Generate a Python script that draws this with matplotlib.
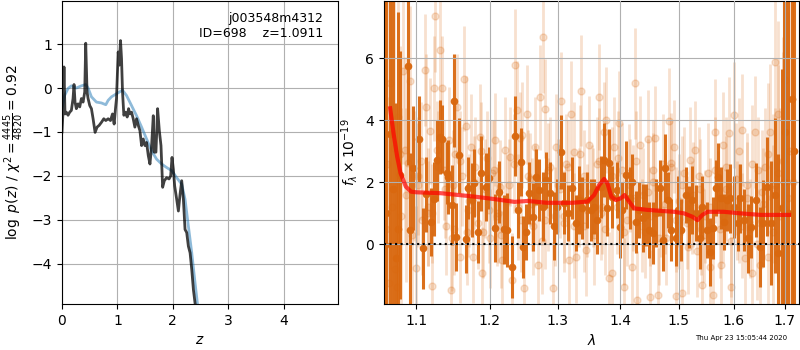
import numpy as np
import matplotlib
matplotlib.use('Agg')
import matplotlib.pyplot as plt
from matplotlib.ticker import FixedLocator, FixedFormatter, NullLocator

# ── Left panel: log p(z) ─────────────────────────────────────────────────────
Z_PZ = [0.000, 0.018, 0.036, 0.054, 0.078, 0.109, 0.139, 0.169, 0.199, 0.217,
        0.235, 0.259, 0.290, 0.320, 0.350, 0.380, 0.410, 0.428, 0.452, 0.471,
        0.501, 0.531, 0.561, 0.597, 0.633, 0.670, 0.712, 0.754, 0.790, 0.833,
        0.875, 0.911, 0.941, 0.965, 0.983, 1.014, 1.032, 1.056, 1.074, 1.092,
        1.116, 1.146, 1.176, 1.201, 1.225, 1.255, 1.285, 1.315, 1.345, 1.376,
        1.406, 1.436, 1.466, 1.496, 1.526, 1.557, 1.587, 1.617, 1.647, 1.665,
        1.695, 1.725, 1.756, 1.786, 1.816, 1.846, 1.888, 1.931, 1.961, 1.985,
        2.009, 2.033, 2.069, 2.100, 2.130, 2.160, 2.190, 2.220, 2.250, 2.280,
        2.311, 2.341, 2.371, 2.401, 2.450]
LNP = [-1.00, -0.55, 0.48, -0.59, -0.55, -0.62, -0.55, -0.51, -0.24, 0.08,
       -0.32, -0.47, -0.36, -0.43, -0.24, -0.32, -0.09, 1.02, -0.09, -0.24,
       -0.40, -0.47, -0.70, -1.01, -0.89, -0.85, -0.78, -0.70, -0.74, -0.70,
       -0.74, -0.59, -0.82, -0.47, -0.24, 0.82, 0.52, 1.08, 0.67, -0.09,
       -0.62, -0.55, -0.66, -0.47, -0.59, -0.55, -0.70, -0.89, -0.70, -0.85,
       -0.97, -1.31, -1.16, -1.31, -1.24, -1.54, -1.73, -1.31, -0.63, -1.46,
       -1.46, -0.47, -0.97, -1.31, -2.26, -2.11, -2.04, -2.07, -2.00, -1.58,
       -1.85, -2.23, -2.53, -2.80, -2.42, -2.11, -2.53, -3.22, -3.29, -3.60,
       -3.75, -4.13, -4.59, -4.90, -5.40]

Z_SMOOTH = [0.000, 0.048, 0.109, 0.169, 0.259, 0.350, 0.428, 0.471, 0.531, 0.621,
            0.712, 0.790, 0.833, 0.893, 0.983, 1.092, 1.164, 1.255, 1.345, 1.436,
            1.526, 1.617, 1.707, 1.798, 1.888, 1.979, 2.069, 2.160, 2.220, 2.280,
            2.341, 2.401, 2.443, 2.490]
LNP_SMOOTH = [-0.47, -0.17, -0.01, 0.05, 0.00, 0.05, 0.08, 0.00, -0.20, -0.32,
              -0.34, -0.38, -0.28, -0.20, -0.13, -0.05, -0.17, -0.40, -0.63, -0.89,
              -1.16, -1.43, -1.62, -1.73, -1.81, -1.88, -2.04, -2.19, -2.53, -3.14,
              -3.75, -4.44, -4.90, -5.40]

# ── Right panel: spectrum ────────────────────────────────────────────────────
# binned points
BIN_WAVE = [1.0600, 1.0667, 1.0742, 1.0791, 1.0889, 1.0924, 1.0956, 1.1037, 1.1083, 1.1129,
            1.1194, 1.1240, 1.1276, 1.1313, 1.1346, 1.1406, 1.1424, 1.1470, 1.1507, 1.1535,
            1.1576, 1.1668, 1.1691, 1.1747, 1.1783, 1.1829, 1.1876, 1.1945, 1.1991, 1.2073,
            1.2136, 1.2199, 1.2243, 1.2316, 1.2364, 1.2403, 1.2442, 1.2485, 1.2524, 1.2573,
            1.2621, 1.2670, 1.2718, 1.2777, 1.2825, 1.2879, 1.2937, 1.2995, 1.3053, 1.3102,
            1.3155, 1.3225, 1.3278, 1.3332, 1.3385, 1.3465, 1.3519, 1.3572, 1.3626, 1.3679,
            1.3733, 1.3775, 1.3813, 1.3866, 1.3947, 1.3989, 1.4029, 1.4086, 1.4160, 1.4200,
            1.4257, 1.4314, 1.4371, 1.4429, 1.4486, 1.4543, 1.4600, 1.4674, 1.4714, 1.4754,
            1.4811, 1.4869, 1.4943, 1.4983, 1.5042, 1.5121, 1.5182, 1.5242, 1.5303, 1.5382,
            1.5424, 1.5503, 1.5564, 1.5624, 1.5667, 1.5709, 1.5770, 1.5830, 1.5879, 1.5939,
            1.6013, 1.6077, 1.6129, 1.6194, 1.6271, 1.6335, 1.6439, 1.6503, 1.6568, 1.6645,
            1.6723, 1.6806, 1.6871, 1.6935, 1.7000, 1.7139,
            1.0620, 1.0705, 1.0770, 1.6975, 1.7060, 1.7180]
BIN_FLUX = [-0.02, 3.55, -0.45, 2.24, 5.75, 0.46, 2.45, 3.40, -0.13, 1.61,
            0.72, 1.46, 2.71, 3.47, 3.40, 2.31, 2.17, 1.27, 4.63, 0.24,
            2.87, 0.17, 1.81, 1.43, 1.97, 0.41, 2.29, 1.86, 2.13, 0.52,
            1.70, 0.48, 0.46, -0.72, 3.49, 1.11, 2.65, -0.10, 0.41, 1.65,
            0.89, 2.18, 1.75, 1.22, 2.08, 1.65, 0.59, 1.22, 2.97, 1.32,
            1.00, 1.81, 0.68, 1.43, 1.16, 1.43, 1.11, 1.22, 0.78, 1.86,
            2.72, 1.16, 2.61, 1.54, 1.75, 0.57, 1.11, 2.24, 1.48, 2.02,
            0.73, 1.11, 0.84, 0.95, 0.46, 0.35, 1.00, 1.81, 0.14, 2.45,
            1.43, 0.46, 0.19, 1.11, 0.46, 1.59, 0.89, 1.43, 1.00, 0.19,
            1.22, 0.46, -0.24, 0.52, 1.81, 2.18, 1.48, 0.73, 1.43, 1.48,
            1.22, 0.68, 1.48, 0.78, 0.19, 0.57, 1.43, -0.08, 0.68, 1.86,
            0.68, 1.59, -0.29, 1.16, 3.63, 4.69,
            1.00, 1.80, 0.50, 2.00, 1.00, 3.00]
BIN_ERR = [9.0, 6.0, 5.0, 4.0, 3.2, 2.5, 2.0, 1.4, 1.3, 1.2,
           1.1, 1.2, 1.3, 1.2, 1.1, 1.0, 1.2, 1.3, 1.5, 1.1,
           1.2, 1.1, 1.0, 1.2, 1.1, 1.0, 1.2, 1.1, 1.0, 1.1,
           1.0, 1.1, 1.2, 1.0, 1.3, 0.9, 1.1, 1.0, 0.9, 1.0,
           1.1, 0.9, 1.0, 1.1, 0.9, 1.0, 1.1, 0.9, 1.2, 1.0,
           0.9, 1.0, 0.9, 1.1, 1.0, 0.9, 1.0, 0.9, 1.1, 1.0,
           1.2, 0.9, 1.1, 1.0, 0.9, 1.0, 0.9, 1.1, 1.0, 0.9,
           1.0, 0.9, 1.1, 1.0, 0.9, 1.0, 1.1, 0.9, 1.0, 1.1,
           0.9, 1.0, 0.9, 1.1, 1.0, 0.9, 1.0, 1.1, 0.9, 1.0,
           1.0, 0.9, 1.1, 1.0, 0.9, 1.1, 1.0, 0.9, 1.0, 1.1,
           1.0, 0.9, 1.1, 1.0, 1.1, 1.0, 1.2, 1.3, 1.4, 1.6,
           2.0, 2.5, 3.2, 4.5, 7.0, 9.0,
           9.0, 8.0, 7.0, 8.0, 9.0, 9.0]

# individual (unbinned) points
RAW_WAVE = [1.061, 1.063, 1.065, 1.067, 1.069, 1.071, 1.073, 1.075, 1.077, 1.079,
            1.081, 1.083, 1.085, 1.087, 1.089, 1.092, 1.094, 1.097, 1.100, 1.103,
            1.106, 1.108, 1.111, 1.113, 1.116, 1.118, 1.121, 1.123, 1.125, 1.128,
            1.131, 1.134, 1.137, 1.140, 1.143, 1.146, 1.149, 1.152, 1.155, 1.158,
            1.161, 1.164, 1.167, 1.170, 1.173, 1.176, 1.179, 1.183, 1.186, 1.189,
            1.193, 1.196, 1.200, 1.203, 1.207, 1.211, 1.214, 1.218, 1.221, 1.225,
            1.229, 1.232, 1.236, 1.239, 1.243, 1.247, 1.250, 1.254, 1.258, 1.262,
            1.266, 1.270, 1.273, 1.277, 1.281, 1.285, 1.289, 1.293, 1.297, 1.301,
            1.305, 1.309, 1.313, 1.317, 1.321, 1.325, 1.329, 1.333, 1.337, 1.341,
            1.345, 1.349, 1.353, 1.357, 1.361, 1.365, 1.369, 1.373, 1.377, 1.381,
            1.386, 1.390, 1.394, 1.398, 1.402, 1.406, 1.411, 1.415, 1.419, 1.424,
            1.428, 1.432, 1.437, 1.441, 1.446, 1.450, 1.455, 1.459, 1.464, 1.468,
            1.473, 1.477, 1.482, 1.486, 1.491, 1.495, 1.500, 1.505, 1.509, 1.514,
            1.519, 1.523, 1.528, 1.533, 1.538, 1.542, 1.547, 1.552, 1.557, 1.562,
            1.566, 1.571, 1.576, 1.581, 1.586, 1.591, 1.596, 1.601, 1.606, 1.611,
            1.616, 1.621, 1.626, 1.631, 1.636, 1.641, 1.646, 1.651, 1.656, 1.661,
            1.666, 1.671, 1.676, 1.681, 1.686, 1.691, 1.696, 1.701, 1.706, 1.711,
            1.1205, 1.1505, 1.2405, 1.2805, 1.3405, 1.4205, 1.5005, 1.5805, 1.6505, 1.7155,
            1.1705, 1.2105, 1.2605, 1.3105, 1.3705, 1.4505, 1.5405, 1.6105, 1.6805, 1.1905,
            1.1025, 1.1155, 1.1285, 1.1385, 1.1475, 1.1585, 1.1675, 1.1775, 1.1875, 1.1985,
            1.2055, 1.2155, 1.2275, 1.2345, 1.2455, 1.2555, 1.2655, 1.2755, 1.2855, 1.2955,
            1.3035, 1.3155, 1.3255, 1.3355, 1.3455, 1.3555, 1.3655, 1.3755, 1.3855, 1.3955,
            1.4055, 1.4155, 1.4255, 1.4355, 1.4455, 1.4555, 1.4655, 1.4755, 1.4855, 1.4955,
            1.5055, 1.5155, 1.5255, 1.5355, 1.5455, 1.5555, 1.5655, 1.5755, 1.5855, 1.5955,
            1.6055, 1.6155, 1.6255, 1.6355, 1.6455, 1.6555, 1.6655, 1.6755, 1.6855, 1.6955]
RAW_FLUX = [0.5, 2.6, -1.26, 5.2, 1.2, 3.1, -0.8, -1.37, 4.1, 2.9,
            0.9, 5.6, 3.04, 1.6, 2.61, 5.28, 0.3, 2.2, -0.77, 1.9,
            2.7, 0.8, 5.62, 4.44, 1.2, 3.66, -1.33, 5.03, 7.37, 3.04,
            6.27, 5.03, 2.4, 0.6, 3.37, -1.47, 1.9, 2.9, 4.44, -0.40,
            2.2, 5.35, 3.82, 1.1, 3.15, -0.40, 2.5, 0.7, 3.47, -0.94,
            1.8, 2.8, 0.2, 2.3, 3.37, 1.0, 1.86, -0.51, 3.04, 1.4,
            2.83, -1.15, 5.78, 4.33, 3.42, 3.53, -1.42, 4.19, 2.1, 0.6,
            3.15, -0.67, 4.74, 6.68, 4.37, 1.3, 2.5, -1.42, 3.15, 1.9,
            4.62, 0.9, 2.6, -0.51, 4.20, 2.99, -0.40, 1.5, 4.96, 2.2,
            -0.18, 3.20, 1.7, 0.3, 2.6, 4.76, 1.0, 3.63, 4.01, -1.10,
            -0.91, 3.15, 1.2, 3.90, 2.4, -1.39, 0.8, 2.29, -0.72, 5.19,
            -1.80, 3.20, 1.6, 0.4, 3.39, -1.69, 2.0, 3.42, -1.63, 1.1,
            2.6, 0.2, 3.98, 2.63, 3.15, -1.66, 1.4, -1.58, 2.3, 0.7,
            2.72, 1.2, 3.04, -0.2, 1.8, -1.31, 0.9, 2.3, -0.72, -1.63,
            3.63, 1.5, -0.67, 3.20, 2.5, 3.60, -1.37, 4.17, 1.1, 3.02,
            3.69, -0.45, 1.9, 0.5, -0.94, 3.62, 2.4, -0.67, 1.3, 2.51,
            -0.40, 3.63, 1.8, 5.88, 4.20, 0.9, 2.7, 5.30, 1.5, 3.0,
            1.0, 0.5, 1.2, 0.8, 0.6, 1.5, 0.8, 0.9, 0.7, 2.0,
            1.4, 0.9, 1.3, 0.7, 1.2, 0.9, 0.5, 1.0, 1.9, 0.4,
            2.2, 1.0, 2.5, 1.8, 0.2, 2.7, 0.4, 2.0, 3.0, 1.1,
            2.4, 0.3, 1.9, 2.6, 0.8, 2.2, 1.6, 0.1, 2.4, 0.9,
            1.8, 2.5, 0.6, 2.9, 1.1, 1.5, 2.7, 0.5, 2.2, 2.8,
            0.4, 1.9, 2.7, 0.6, 1.7, 2.4, 0.2, 1.3, 2.5, 0.8,
            1.9, -0.1, 1.6, 2.2, 0.3, 1.2, 2.4, 0.5, 1.8, 0.1,
            2.1, 0.6, 1.5, 2.6, 0.0, 1.7, 2.9, 0.4, 2.3, 1.2]
RAW_ERR = [8.0, 7.0, 6.0, 6.0, 5.5, 5.0, 4.5, 4.0, 4.0, 3.5,
           3.5, 3.0, 3.0, 2.8, 2.6, 2.4, 2.2, 2.1, 2.0, 2.0,
           1.9, 1.8, 1.8, 1.7, 1.9, 1.7, 1.8, 1.7, 1.8, 1.6,
           1.8, 1.7, 1.6, 1.6, 1.7, 1.6, 1.8, 1.6, 1.7, 1.5,
           1.6, 1.7, 1.6, 1.5, 1.7, 1.5, 1.6, 1.5, 1.7, 1.5,
           1.6, 1.5, 1.6, 1.7, 1.5, 1.6, 1.5, 1.6, 1.7, 1.5,
           1.6, 1.5, 1.8, 1.6, 1.5, 1.7, 1.5, 1.6, 1.5, 1.6,
           1.6, 1.5, 1.7, 1.8, 1.6, 1.5, 1.6, 1.5, 1.7, 1.5,
           1.6, 1.5, 1.6, 1.5, 1.7, 1.6, 1.5, 1.6, 1.8, 1.5,
           1.5, 1.6, 1.5, 1.6, 1.5, 1.7, 1.5, 1.6, 1.7, 1.5,
           1.5, 1.6, 1.5, 1.7, 1.5, 1.6, 1.5, 1.6, 1.5, 1.8,
           1.6, 1.6, 1.5, 1.5, 1.6, 1.5, 1.6, 1.7, 1.5, 1.5,
           1.6, 1.5, 1.7, 1.6, 1.5, 1.6, 1.5, 1.6, 1.5, 1.5,
           1.7, 1.5, 1.6, 1.5, 1.6, 1.5, 1.5, 1.6, 1.5, 1.6,
           1.7, 1.5, 1.6, 1.7, 1.6, 1.8, 1.6, 1.7, 1.6, 1.7,
           1.8, 1.6, 1.7, 1.6, 1.7, 1.8, 1.7, 1.8, 1.8, 1.9,
           2.0, 2.2, 2.4, 2.6, 3.0, 3.5, 4.0, 5.0, 6.0, 7.0,
           1.6, 1.5, 1.7, 1.6, 1.5, 1.7, 1.6, 1.5, 1.8, 8.0,
           1.5, 1.6, 1.5, 1.6, 1.5, 1.6, 1.5, 1.6, 2.5, 1.5,
           1.9, 1.7, 1.8, 1.6, 1.7, 1.6, 1.7, 1.5, 1.6, 1.7,
           1.6, 1.7, 1.5, 1.6, 1.7, 1.5, 1.6, 1.7, 1.5, 1.6,
           1.6, 1.5, 1.7, 1.6, 1.5, 1.6, 1.7, 1.5, 1.6, 1.5,
           1.7, 1.5, 1.6, 1.5, 1.7, 1.6, 1.5, 1.6, 1.5, 1.7,
           1.6, 1.5, 1.7, 1.6, 1.5, 1.6, 1.7, 1.6, 1.7, 1.8,
           1.8, 1.7, 1.8, 1.9, 1.8, 2.0, 2.3, 2.8, 3.5, 5.0]

# best-fit model
MODEL_WAVE = [1.0667, 1.0710, 1.0756, 1.0800, 1.0867, 1.0933, 1.1000, 1.1323, 1.1783, 1.2063,
              1.2257, 1.2355, 1.2549, 1.2840, 1.3228, 1.3465, 1.3572, 1.3652, 1.3733, 1.3786,
              1.3850, 1.3920, 1.4000, 1.4069, 1.4126, 1.4229, 1.4457, 1.4914, 1.5091, 1.5242,
              1.5333, 1.5424, 1.5515, 1.5818, 1.6129, 1.6516, 1.7084]
MODEL_FLUX = [4.39, 3.58, 2.83, 2.29, 1.86, 1.70, 1.68, 1.65, 1.54, 1.46,
              1.40, 1.37, 1.40, 1.34, 1.34, 1.38, 1.59, 1.91, 2.11, 1.97,
              1.54, 1.43, 1.48, 1.59, 1.43, 1.16, 1.11, 1.05, 1.00, 0.89,
              0.78, 0.95, 1.05, 1.05, 1.00, 0.95, 0.95]

WAVE_TICKS = [1.1, 1.2, 1.3, 1.4, 1.5, 1.6, 1.7]
SPEC_COLOR = '#d9680f'

fig = plt.figure(figsize=(8, 3.5), dpi=100)

# ── left panel ──
ax = fig.add_axes([0.0775, 0.131, 0.345, 0.866])
ax.plot(Z_SMOOTH, LNP_SMOOTH, color='tab:blue', alpha=0.5, lw=2)
ax.plot(Z_PZ, LNP, color='k', alpha=0.75, lw=2)
ax.set_xlim(0, 4.98)
ax.set_ylim(-4.92, 1.98)
ax.set_xticks([0, 1, 2, 3, 4])
ax.set_yticks([-4, -3, -2, -1, 0, 1])
ax.grid()
ax.set_xlabel(r'$z$')
ax.set_ylabel(r'$\log\ p(z)$' + ' / ' + r'$\chi^2=\frac{4445}{4820}=0.92$')
ax.text(0.945, 0.965, 'j003548m4312\nID=698    z=1.0911', transform=ax.transAxes,
        ha='right', va='top', fontsize=9)

# ── right panel ──
ax = fig.add_axes([0.48, 0.131, 0.519, 0.866])
ax.errorbar(RAW_WAVE, RAW_FLUX, yerr=RAW_ERR, color=SPEC_COLOR, alpha=0.2,
            marker='o', ms=5, linestyle='None', elinewidth=2, zorder=1)
ax.errorbar(BIN_WAVE, BIN_FLUX, yerr=BIN_ERR, color=SPEC_COLOR, alpha=0.95,
            marker='o', ms=4.5, linestyle='None', elinewidth=2.2, zorder=2)
ax.plot(MODEL_WAVE, MODEL_FLUX, color='r', alpha=0.7, lw=3, zorder=4)
ax.axhline(0, color='k', ls=':', lw=1.5, zorder=5)
ax.set_xscale('log')
ax.set_xlim(1.059, 1.729)
ax.set_ylim(-1.93, 7.85)
ax.xaxis.set_major_locator(FixedLocator(WAVE_TICKS))
ax.xaxis.set_major_formatter(FixedFormatter([f'{w:.1f}' for w in WAVE_TICKS]))
ax.xaxis.set_minor_locator(NullLocator())
ax.set_yticks([0, 2, 4, 6])
ax.set_axisbelow(False)
ax.grid(zorder=3)
ax.set_xlabel(r'$\lambda$')
ax.set_ylabel(r'$f_\lambda\times10^{-19}$')

fig.text(0.984, 0.025, 'Thu Apr 23 15:05:44 2020', ha='right', va='bottom', fontsize=5)

fig.savefig('out.png', dpi=100)
